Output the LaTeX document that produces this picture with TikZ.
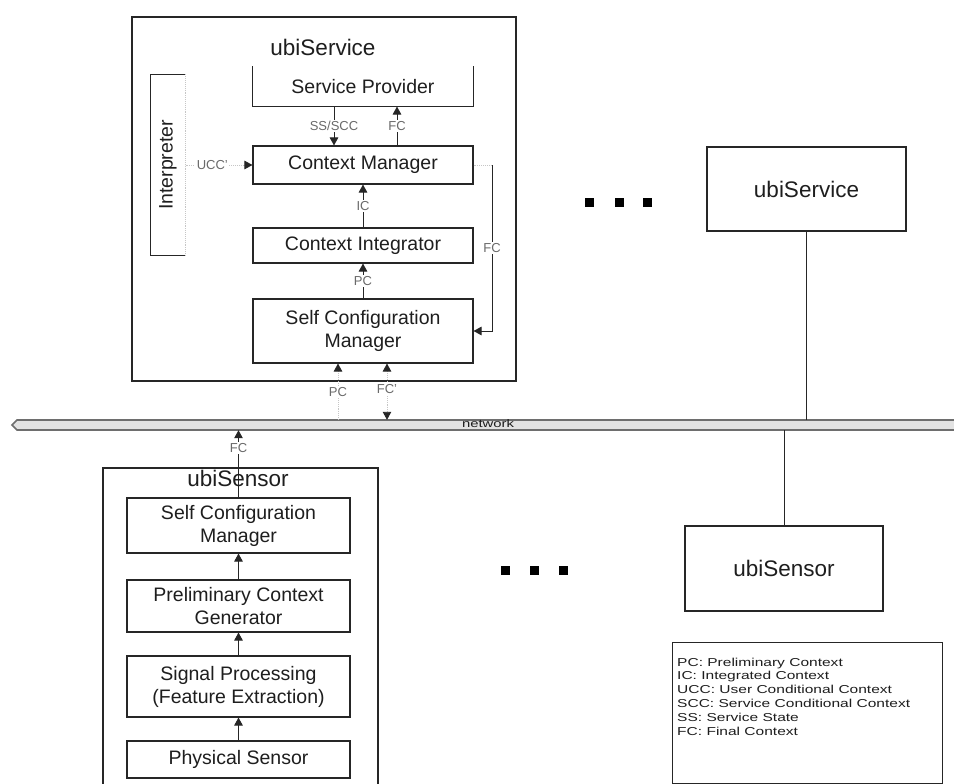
\documentclass[tikz,border=0pt]{standalone}
\usepackage{fontspec}
\setmainfont{Liberation Sans}
\newfontfamily\widefont[FakeStretch=1.35]{Liberation Sans}
\usetikzlibrary{arrows.meta}

\definecolor{linec}{HTML}{262626}
\definecolor{txtc}{HTML}{1E1E1E}
\definecolor{lblc}{HTML}{6A6A6A}
\definecolor{netfill}{HTML}{E2E2E2}
\definecolor{netline}{HTML}{6E6E6E}

\newcommand\boxsize{\fontsize{19.5}{23}\selectfont}
\newcommand\titlesize{\fontsize{22.5}{26}\selectfont}
\newcommand\lblsize{\fontsize{13}{13}\selectfont}
\newcommand\legendsize{\widefont\fontsize{11.5}{13.8}\selectfont}

\begin{document}
\begin{tikzpicture}[x=1pt,y=-1pt,
  >={Triangle[length=8pt,width=8.5pt,color=linec]},
  box/.style={draw=linec, line width=1.1pt, minimum width=220pt, inner sep=0pt,
    align=center, font=\boxsize, text=txtc},
  boxline/.style={draw=linec, line width=1.1pt},
  bigbox/.style={draw=linec, line width=1.1pt, inner sep=0pt, font=\titlesize, text=txtc},
  title/.style={font=\titlesize, text=txtc, inner sep=0pt},
  conn/.style={draw=linec, line width=1pt},
  faint/.style={draw=gray!45, line width=0.9pt, densely dotted},
  lbl/.style={fill=white, inner sep=1.5pt, font=\lblsize, text=lblc},
  dot/.style={fill=black, rectangle, minimum size=9pt, inner sep=0pt},
]
\clip (0,0) rectangle (954,784);
\fill[white] (0,0) rectangle (954,784);

% ---------- ubiService (detailed) ----------
\node[bigbox, minimum width=384pt, minimum height=364pt] (svcbox) at (324,199) {};
\node[title] (svctitle) at (323,47) {ubiService};

\node[box, draw=none, minimum height=39pt] (prov) at (363,86.5) {Service Provider};
\draw[boxline] (prov.north west) -- (prov.south west) -- (prov.south east) -- (prov.north east);

\node[box, minimum height=38pt] (cm) at (363,165) {Context Manager};
\node[box, minimum height=35pt] (ci) at (363,245.5) {Context Integrator};
\node[box, minimum height=64pt] (scm) at (363,331) {Self Configuration\\Manager};

% Interpreter: solid on three sides, dotted on the side facing the manager
\node[box, draw=none, minimum width=34pt, minimum height=180pt] (interp) at (168,165) {};
\draw[boxline] (interp.north east) -- (interp.north west) -- (interp.south west) -- (interp.south east);
\draw[faint] (interp.north east) -- (interp.south east);
\node[rotate=90, font=\boxsize, text=txtc, inner sep=0pt] (interptext) at (interp.center) {Interpreter};

% connectors inside the service
\draw[conn,->] ([xshift=-29pt]prov.south) -- node[lbl]{SS/SCC} ([xshift=-29pt]cm.north);
\draw[conn,->] ([xshift=34pt]cm.north) -- node[lbl]{FC} ([xshift=34pt]prov.south);
\draw[conn,->] (ci.north) -- node[lbl]{IC} (cm.south);
\draw[conn,->] (scm.north) -- node[lbl]{PC} (ci.south);
\draw[faint,->] (interp.east) -- node[lbl, pos=0.4]{UCC'} (cm.west);

\coordinate (fcturn) at (492,165);
\draw[faint] (cm.east) -- (fcturn);
\draw[conn,->] (fcturn) |- node[lbl, pos=0.25]{FC} (scm.east);

% ---------- network ----------
\path[draw=netline, line width=1.6pt, fill=netfill]
  (12,425) -- (17,420) -- (965,420) -- (965,430) -- (17,430) -- cycle;
\node[minimum width=948pt, minimum height=10pt, inner sep=0pt] (net) at (488,425) {};
\node[font=\widefont\fontsize{11}{11}\selectfont, text=txtc, inner sep=0pt] (netlabel) at (488,424) {network};

% links between the service and the network
\coordinate (pcpt) at ([xshift=-25pt]scm.south);
\coordinate (fcpt) at ([xshift=24pt]scm.south);
\draw[faint,->] (pcpt |- net.north) -- node[lbl]{PC} (pcpt);
\draw[faint,<->] (fcpt |- net.north) -- node[lbl, pos=0.55]{FC'} (fcpt);

% ---------- remote ubiService ----------
\node[bigbox, minimum width=199pt, minimum height=84pt] (rsvc) at (806.5,189) {ubiService};
\draw[conn] (rsvc.south) -- (rsvc.south |- net.north);

\node[dot] (da1) at (589,202) {};
\node[dot] (da2) at (619,202) {};
\node[dot] (da3) at (647,202) {};

% ---------- ubiSensor (detailed) ----------
\node[bigbox, minimum width=275pt, minimum height=332pt] (senbox) at (240.5,634) {};

\node[box, minimum width=223pt, minimum height=55pt] (sscm) at (238.5,525.5) {Self Configuration\\Manager};
\node[box, minimum width=223pt, minimum height=52pt] (pcg) at (238.5,606) {Preliminary Context\\Generator};
\node[box, minimum width=223pt, minimum height=61pt] (sig) at (238.5,686.5) {Signal Processing\\(Feature Extraction)};
\node[box, minimum width=223pt, minimum height=37pt] (phys) at (238.5,759.5) {Physical Sensor};

\draw[conn,->] (phys.north) -- (sig.south);
\draw[conn,->] (sig.north) -- (pcg.south);
\draw[conn,->] (pcg.north) -- (sscm.south);
\draw[conn,->] (sscm.north) -- node[lbl, pos=0.73]{FC} (sscm.north |- net.south);
\node[title] (sentitle) at (238,478) {ubiSensor};

% ---------- remote ubiSensor ----------
\node[bigbox, minimum width=198pt, minimum height=85pt] (rsen) at (784,568.5) {ubiSensor};
\draw[conn] (rsen.north |- net.south) -- (rsen.north);

\node[dot] (db1) at (505,570) {};
\node[dot] (db2) at (534,570) {};
\node[dot] (db3) at (563,570) {};

% ---------- legend ----------
\node[draw=linec, line width=1pt, minimum width=270pt, minimum height=141pt, inner sep=0pt] (legend) at (807,712.5) {};
\node[anchor=north west, align=left, inner sep=0pt, font=\legendsize, text=txtc] (legendtext) at (677,657.5)
  {PC: Preliminary Context\\IC: Integrated Context\\UCC: User Conditional Context\\
   SCC: Service Conditional Context\\SS: Service State\\FC: Final Context};
\end{tikzpicture}
\end{document}
